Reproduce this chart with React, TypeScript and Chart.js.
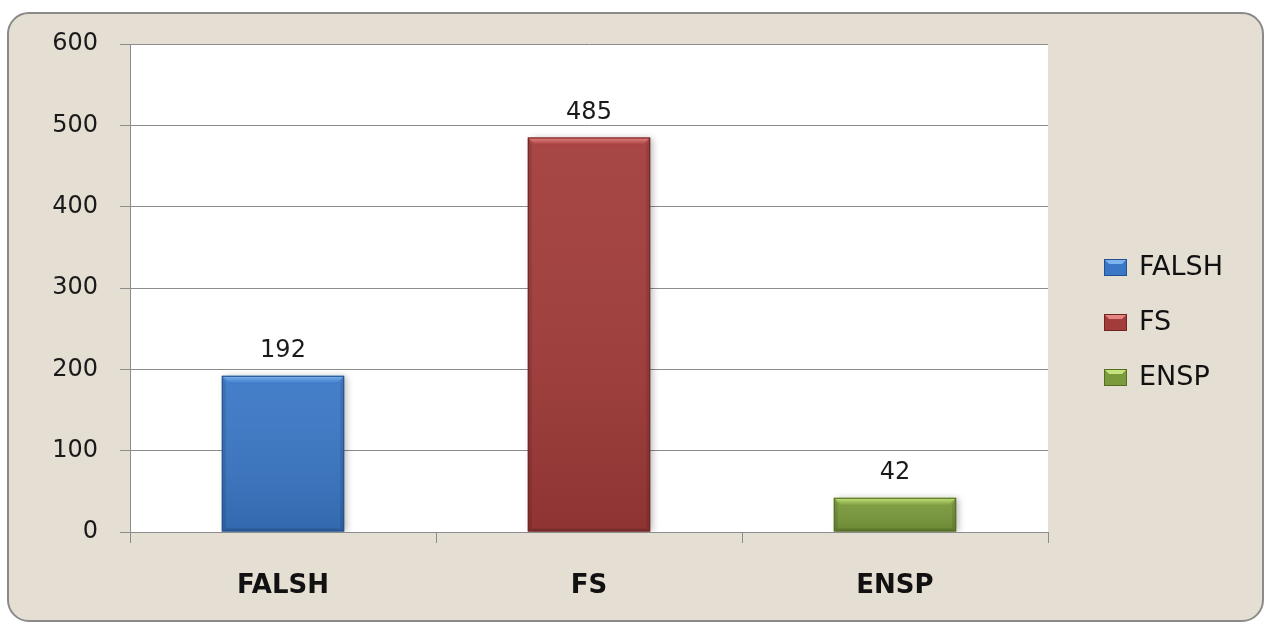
import React, { useEffect, useRef } from "react";
import { Chart, registerables } from "chart.js";
Chart.register(...registerables);

const categories = ["FALSH", "FS", "ENSP"];
const values = [192, 485, 42];
const yMin = 0;
const yMax = 600;
const yStep = 100;
const barColors = ["#3a77c6", "#a23b39", "#7a9a3b"];
const barDark = ["#23508e", "#6f2322", "#536d22"];
const barLight = ["#7db4f0", "#e58480", "#c6e47e"];

const FONT = "'DejaVu Sans', Verdana, sans-serif";

const plotBgPlugin = {
  id: "plotBg",
  beforeDraw(chart: any) {
    const { ctx, chartArea } = chart;
    if (!chartArea) return;
    ctx.save();
    ctx.fillStyle = "#ffffff";
    ctx.fillRect(chartArea.left, chartArea.top, chartArea.right - chartArea.left, chartArea.bottom - chartArea.top);
    ctx.restore();
  },
};

const shadowPlugin = {
  id: "barShadow",
  beforeDatasetsDraw(chart: any) {
    const { ctx } = chart;
    ctx.save();
    ctx.shadowColor = "rgba(0,0,0,0.28)";
    ctx.shadowBlur = 7;
    ctx.shadowOffsetX = 3;
    ctx.shadowOffsetY = 0;
  },
  afterDatasetsDraw(chart: any) {
    chart.ctx.restore();
  },
};

const bevelPlugin = {
  id: "bevel",
  afterDatasetsDraw(chart: any) {
    const { ctx } = chart;
    const meta = chart.getDatasetMeta(0);
    meta.data.forEach((bar: any, i: number) => {
      const { x, y, base, width } = bar.getProps(["x", "y", "base", "width"], true);
      const l = x - width / 2;
      const r = x + width / 2;
      const t = Math.min(y, base);
      const b = Math.max(y, base);
      const h = b - t;
      const bv = Math.min(8, h / 3);
      ctx.save();
      const g = ctx.createLinearGradient(0, t, 0, b);
      g.addColorStop(0, "rgba(255,255,255,0.06)");
      g.addColorStop(1, "rgba(0,0,0,0.12)");
      ctx.fillStyle = g;
      ctx.fillRect(l, t, width, h);
      ctx.fillStyle = "rgba(0,0,0,0.10)";
      ctx.beginPath();
      ctx.moveTo(l, t); ctx.lineTo(l + 4, t + bv); ctx.lineTo(l + 4, b - 3); ctx.lineTo(l, b);
      ctx.closePath(); ctx.fill();
      ctx.beginPath();
      ctx.moveTo(r, t); ctx.lineTo(r - 4, t + bv); ctx.lineTo(r - 4, b - 3); ctx.lineTo(r, b);
      ctx.closePath(); ctx.fill();
      ctx.fillStyle = "rgba(0,0,0,0.14)";
      ctx.beginPath();
      ctx.moveTo(l, b); ctx.lineTo(l + 4, b - 3); ctx.lineTo(r - 4, b - 3); ctx.lineTo(r, b);
      ctx.closePath(); ctx.fill();
      const tg = ctx.createLinearGradient(0, t, 0, t + bv);
      tg.addColorStop(0, barLight[i]);
      tg.addColorStop(1, barColors[i]);
      ctx.fillStyle = tg;
      ctx.beginPath();
      ctx.moveTo(l, t); ctx.lineTo(r, t); ctx.lineTo(r - bv, t + bv); ctx.lineTo(l + bv, t + bv);
      ctx.closePath(); ctx.fill();
      ctx.strokeStyle = barDark[i];
      ctx.lineWidth = 1;
      ctx.strokeRect(l + 0.5, t + 0.5, width - 1, h - 1);
      ctx.restore();
    });
  },
};

const labelPlugin = {
  id: "valueLabels",
  afterDatasetsDraw(chart: any) {
    const { ctx } = chart;
    const meta = chart.getDatasetMeta(0);
    ctx.save();
    ctx.font = `24px ${FONT}`;
    ctx.fillStyle = "#1a1a1a";
    ctx.textAlign = "center";
    ctx.textBaseline = "alphabetic";
    meta.data.forEach((bar: any, i: number) => {
      ctx.fillText(String(values[i]), bar.x, bar.y - 19);
    });
    ctx.restore();
  },
};

const legendPlugin = {
  id: "customLegend",
  afterDraw(chart: any) {
    const { ctx, chartArea } = chart;
    const x0 = chartArea.right + 56;
    const yc = 322;
    const gap = 55;
    ctx.save();
    ctx.font = `27px ${FONT}`;
    ctx.textBaseline = "middle";
    ctx.textAlign = "left";
    categories.forEach((c, i) => {
      const y = yc + (i - 1) * gap;
      const bx = x0, by = y - 8, bw = 23, bh = 17;
      ctx.fillStyle = barColors[i];
      ctx.fillRect(bx, by, bw, bh);
      ctx.fillStyle = barLight[i];
      ctx.beginPath();
      ctx.moveTo(bx, by); ctx.lineTo(bx + bw, by); ctx.lineTo(bx + bw - 5, by + 5); ctx.lineTo(bx + 5, by + 5);
      ctx.closePath(); ctx.fill();
      ctx.strokeStyle = barDark[i];
      ctx.lineWidth = 1;
      ctx.strokeRect(bx + 0.5, by + 0.5, bw - 1, bh - 1);
      ctx.fillStyle = "#111111";
      ctx.fillText(c, bx + 35, y + 1);
    });
    ctx.restore();
  },
};

export default function App() {
  const ref = useRef<HTMLCanvasElement | null>(null);
  useEffect(() => {
    if (!ref.current) return;
    const chart = new Chart(ref.current, {
      type: "bar",
      data: {
        labels: categories,
        datasets: [
          {
            data: values,
            backgroundColor: barColors,
            borderWidth: 0,
            barPercentage: 0.4,
            categoryPercentage: 1.0,
          },
        ],
      },
      options: {
        responsive: false,
        animation: false,
        layout: { padding: { left: 0, top: 44, right: 220, bottom: 0 } },
        plugins: { legend: { display: false }, tooltip: { enabled: false } },
        scales: {
          x: {
            offset: true,
            grid: { offset: true, drawOnChartArea: false, drawTicks: true, tickLength: 11, color: "#8c8c8c", lineWidth: 1 },
            border: { display: true, color: "#8c8c8c", width: 1 },
            ticks: { padding: 28, color: "#111111", font: { family: FONT, size: 26, weight: "bold" } },
            afterFit: (s: any) => { s.height = 94; s.paddingLeft = 0; s.paddingRight = 0; },
          },
          y: {
            min: yMin,
            max: yMax,
            ticks: { stepSize: yStep, padding: 22, color: "#1a1a1a", font: { family: FONT, size: 24 } },
            grid: { color: "#8c8c8c", lineWidth: 1, drawTicks: true, tickLength: 10 },
            border: { display: true, color: "#8c8c8c", width: 1 },
            afterFit: (s: any) => { s.width = 130; s.paddingTop = 0; s.paddingBottom = 0; },
          },
        },
      } as any,
      plugins: [plotBgPlugin, shadowPlugin, bevelPlugin, labelPlugin, legendPlugin],
    });
    return () => chart.destroy();
  }, []);

  return (
    <div style={{ position: "fixed", left: 0, top: 0, width: 1268, height: 626, background: "#ffffff", overflow: "hidden" }}>
      <div
        style={{
          position: "absolute",
          left: 7,
          top: 12,
          width: 1253,
          height: 606,
          background: "#e5ded2",
          border: "2px solid #8a8a8a",
          borderRadius: 22,
        }}
      />
      <canvas ref={ref} width={1268} height={626} style={{ position: "absolute", left: 0, top: 0, width: 1268, height: 626 }} />
    </div>
  );
}
